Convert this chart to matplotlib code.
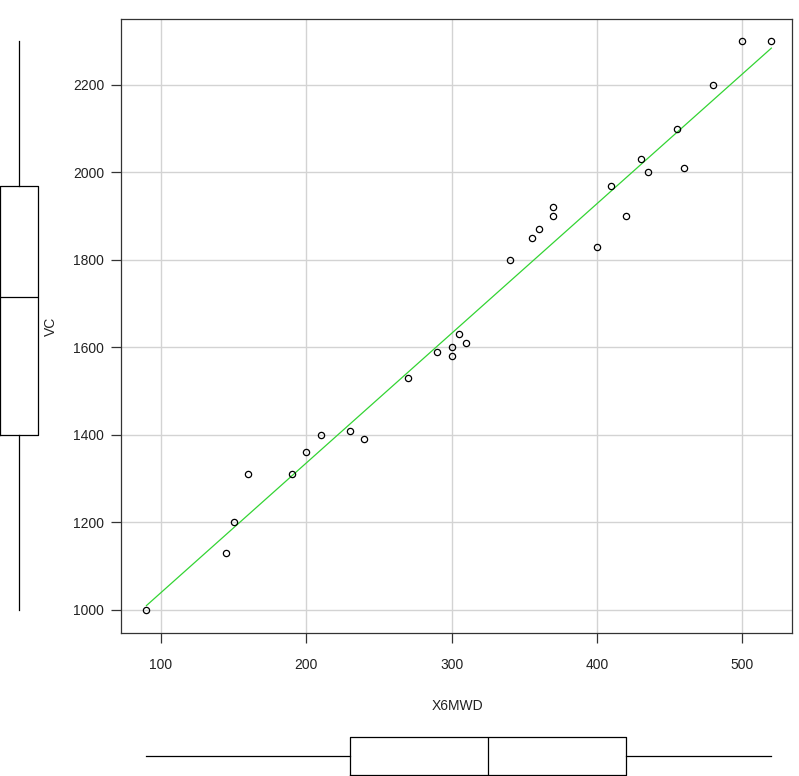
import numpy as np
import matplotlib
matplotlib.use("Agg")
import matplotlib.pyplot as plt

plt.rcParams['font.family'] = ['Liberation Sans', 'DejaVu Sans']

x6mwd = [90, 145, 150, 160, 190, 200, 210, 230, 240, 270, 290, 300, 300, 305, 310,
         340, 355, 360, 370, 370, 400, 410, 420, 430, 435, 455, 460, 480, 500, 520]
vc = [1000, 1130, 1200, 1310, 1310, 1360, 1400, 1410, 1390, 1530, 1590, 1600, 1580, 1630, 1610,
      1800, 1850, 1870, 1900, 1920, 1830, 1970, 1900, 2030, 2000, 2100, 2010, 2200, 2300, 2300]
x_ticks = [100, 200, 300, 400, 500]
y_ticks = [1000, 1200, 1400, 1600, 1800, 2000, 2200]

x = np.array(x6mwd, float)
y = np.array(vc, float)


def fivenum(v):
    v = np.sort(v)
    n = len(v)
    n4 = np.floor((n + 3) / 2) / 2
    d = np.array([1, n4, (n + 1) / 2, n + 1 - n4, n]) - 1
    return 0.5 * (v[np.floor(d).astype(int)] + v[np.ceil(d).astype(int)])


def stats(v):
    f = fivenum(v)
    return [dict(med=f[2], q1=f[1], q3=f[3], whislo=f[0], whishi=f[4], fliers=[])]


W, H = 799, 776
fig = plt.figure(figsize=(W / 100, H / 100), dpi=100)
L, R, T, B = 121, 792, 19, 633
ax = fig.add_axes([L / W, 1 - B / H, (R - L) / W, (B - T) / H])

ax.set_xlim(72.5, 534.2)
ax.set_ylim(947.4, 2350.8)
ax.set_xticks(x_ticks)
ax.set_yticks(y_ticks)
ax.grid(True, color='#d3d3d3', lw=1.0)
ax.set_axisbelow(True)
for s in ax.spines.values():
    s.set_color('#333333')
    s.set_linewidth(0.9)
ax.tick_params(direction='out', length=7, width=0.9, color='#333333',
               labelsize=10, labelcolor='#222222')
ax.tick_params(axis='x', pad=11)
ax.tick_params(axis='y', pad=5)

ax.plot(x, y, 'o', mfc='none', mec='black', ms=4.5, mew=0.9, zorder=3)
coef = np.polyfit(x, y, 1)
xs = np.array([x.min(), x.max()])
ax.plot(xs, np.polyval(coef, xs), color='#33d433', lw=0.9, zorder=2)

ax.set_xlabel('X6MWD', fontsize=10, color='#222222')
ax.set_ylabel('VC', fontsize=10, color='#222222')
ax.xaxis.set_label_coords((457 - L) / (R - L), (B - 699) / (B - T))
ax.yaxis.set_label_coords((58 - L) / (R - L), 0.5)

# left boxplot
axl = fig.add_axes([0, 1 - B / H, 40 / W, (B - T) / H], sharey=ax)
axl.set_xlim(0, 1)
axl.bxp(stats(y), positions=[0.475], widths=0.95, showcaps=False, vert=True,
        boxprops=dict(color='black', lw=0.9), whiskerprops=dict(color='black', lw=0.9, ls='-'),
        medianprops=dict(color='black', lw=0.9))
axl.axis('off')

# bottom boxplot
axb = fig.add_axes([L / W, 0, (R - L) / W, 40 / H], sharex=ax)
axb.set_ylim(0, 1)
axb.bxp(stats(x), positions=[0.5], widths=0.95, showcaps=False, vert=False,
        boxprops=dict(color='black', lw=0.9), whiskerprops=dict(color='black', lw=0.9, ls='-'),
        medianprops=dict(color='black', lw=0.9))
axb.axis('off')

fig.savefig('out.png', dpi=100)
